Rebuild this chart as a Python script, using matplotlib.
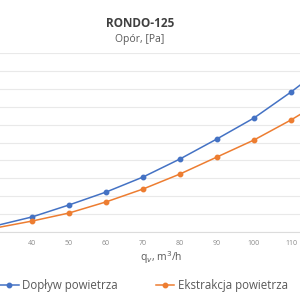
import matplotlib.pyplot as plt
from matplotlib.lines import Line2D

plt.rcParams['font.family'] = ['Open Sans', 'DejaVu Sans']

# air flow, m3/h
flow = [30, 40, 50, 60, 70, 80, 90, 100, 110, 120]
# resistance, Pa
supply = [3.4, 8.4, 15.1, 22.3, 30.7, 40.8, 52.0, 63.7, 78.2, 94.0]
extract = [2.2, 6.1, 10.6, 16.8, 24.0, 32.4, 41.9, 51.4, 62.6, 75.0]
xticks = [40, 50, 60, 70, 80, 90, 100, 110]
yticks = [0, 10, 20, 30, 40, 50, 60, 70, 80, 90, 100]

blue = '#4472C4'
orange = '#ED7D31'
grey = '#8a8a8a'

fig = plt.figure(figsize=(3, 3), dpi=100)
ax = fig.add_axes([0, 0.2267, 1, 0.5966])

ax.plot(flow, supply, color=blue, lw=1.1, marker='o', ms=3.2)
ax.plot(flow, extract, color=orange, lw=1.1, marker='o', ms=3.2)

ax.set_xticks(xticks)
ax.set_yticks(yticks)
ax.set_xlim(31.35, 112.43)
ax.set_ylim(0, 100)
ax.set_yticklabels([])
ax.tick_params(axis='both', length=0)
ax.tick_params(axis='x', labelsize=5, labelcolor=grey, pad=6)
ax.grid(axis='y', color='#e9e9e9', lw=0.8)
for s in ['top', 'left', 'right']:
    ax.spines[s].set_visible(False)
ax.spines['bottom'].set_color('#dcdcdc')
ax.spines['bottom'].set_linewidth(0.8)

fig.text(0.467, 0.922, 'RONDO-125', ha='center', va='center',
         fontsize=8.5, fontweight='bold', color='#404040')
fig.text(0.467, 0.868, 'Opór, [Pa]', ha='center', va='center',
         fontsize=7.5, color='#595959')
fig.text(0.537, 0.14, 'q$_v$, m$^3$/h', ha='center', va='center',
         fontsize=7.5, color='#595959')

handles = [Line2D([], [], color=blue, lw=1.1, marker='o', ms=3.2),
           Line2D([], [], color=orange, lw=1.1, marker='o', ms=3.2)]
fig.legend(handles, ['Dopływ powietrza', 'Ekstrakcja powietrza'],
           loc='center', bbox_to_anchor=(0.48, 0.047), ncol=2, frameon=False,
           fontsize=8.3, labelcolor='#595959', handlelength=1.6,
           handletextpad=0.3, columnspacing=3.3)

fig.savefig('out.png', dpi=100)
